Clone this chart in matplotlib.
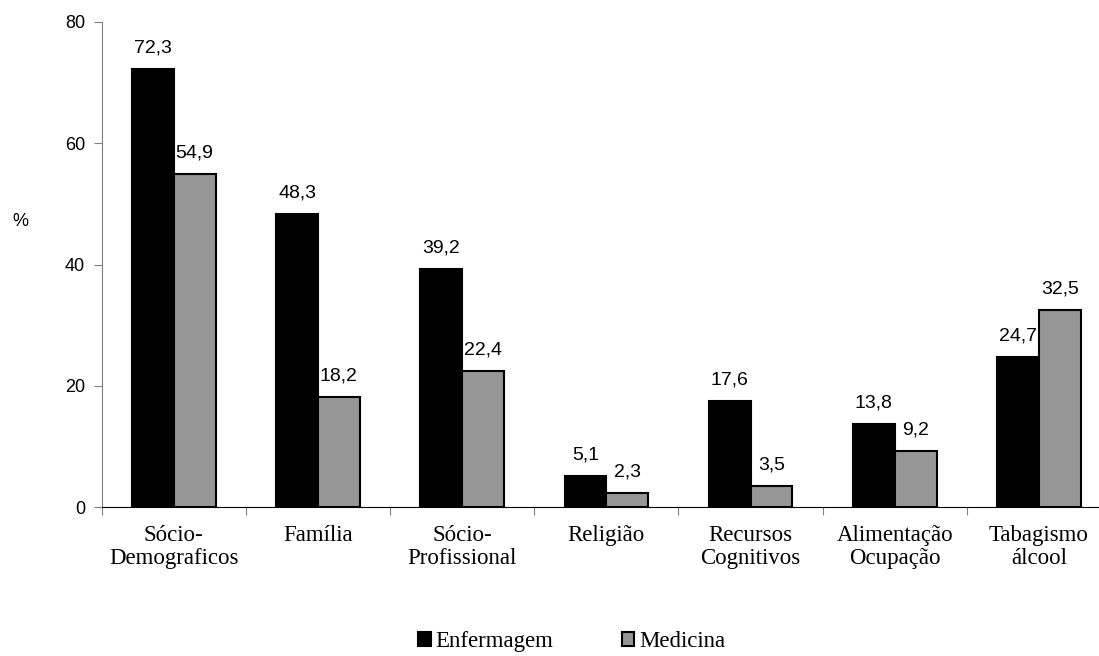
import matplotlib.pyplot as plt
import numpy as np

categories = ["Sócio-\nDemograficos", "Família", "Sócio-\nProfissional", "Religião",
              "Recursos\nCognitivos", "Alimentação\nOcupação", "Tabagismo\nálcool"]
enfermagem = [72.3, 48.3, 39.2, 5.1, 17.6, 13.8, 24.7]
medicina = [54.9, 18.2, 22.4, 2.3, 3.5, 9.2, 32.5]
yticks = [0, 20, 40, 60, 80]


def fmt(v):
    return f"{v:.1f}".replace(".", ",")


fig = plt.figure(figsize=(10.99, 6.56), dpi=100)
ax = fig.add_axes([0.0925, 0.2267, 0.9185, 0.7398])

x = np.arange(len(categories))
w = 0.29
b1 = ax.bar(x - w / 2, enfermagem, w, color="black", edgecolor="black", linewidth=1.5, label="Enfermagem")
b2 = ax.bar(x + w / 2, medicina, w, color="#969696", edgecolor="black", linewidth=1.5, label="Medicina")

for rect, v in zip(list(b1) + list(b2), enfermagem + medicina):
    ax.annotate(fmt(v), (rect.get_x() + rect.get_width() / 2, v), xytext=(0, 9),
                textcoords="offset points", ha="center", va="bottom",
                fontsize=14, family="Liberation Sans")

ax.set_xlim(-0.5, len(categories) - 0.5)
ax.set_ylim(0, 80)
ax.set_yticks(yticks)
ax.set_yticklabels([str(t) for t in yticks], family="Liberation Sans", fontsize=13)
ax.set_xticks(np.arange(len(categories) + 1) - 0.5)
ax.set_xticklabels([])
ax.set_xticks(x, minor=True)
ax.set_xticklabels(categories, minor=True, family="Liberation Serif", fontsize=16.5, linespacing=1.12)
ax.tick_params(axis="x", which="minor", length=0, pad=13)
ax.tick_params(axis="x", which="major", length=6, color="#808080")
ax.tick_params(axis="y", length=6, color="#808080", pad=6)

for s in ["top", "right"]:
    ax.spines[s].set_visible(False)
ax.spines["left"].set_color("#808080")
ax.spines["bottom"].set_color("black")

fig.text(0.011, 1 - 222 / 656, "%", family="Liberation Sans", fontsize=13, va="center")

fig.legend(handles=[b1, b2], loc="center", bbox_to_anchor=(0.52, 0.022), ncol=2,
           frameon=False, prop={"family": "Liberation Serif", "size": 16.5},
           handlelength=0.55, handleheight=0.55, handletextpad=0.2, columnspacing=3,
           borderpad=0.1)

fig.savefig("out.png", dpi=100)
